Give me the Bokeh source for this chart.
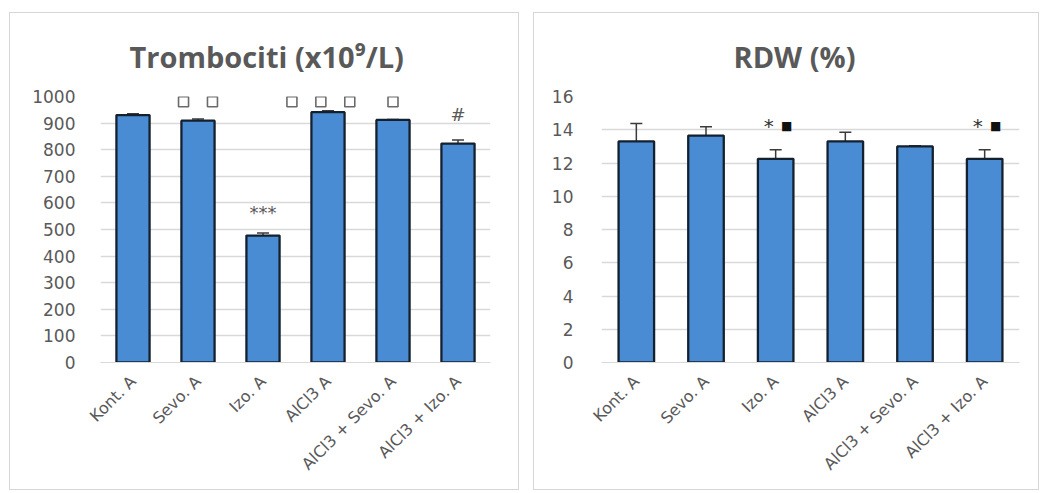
from bokeh.plotting import figure
from bokeh.models import ColumnDataSource, Whisker, TeeHead, FactorRange
from bokeh.layouts import row
from bokeh.core.properties import value
from bokeh.embed import file_html
from bokeh.resources import INLINE

categories = ["Kont. A", "Sevo. A", "Izo. A", "AlCl3 A", "AlCl3 + Sevo. A", "AlCl3 + Izo. A"]

# Trombociti (x10^9/L)
plt_values = [930, 909, 477, 941, 912, 823]
plt_errors = [5, 6, 10, 5, 2, 13]
plt_squares = [0, 2, 0, 3, 1, 0]          # number of "□" marks above each bar
plt_marks = ["", "", "***", "", "", "#"]
plt_mark_y = [None, 980, 563, 980, 980, 934]

# RDW (%)
rdw_values = [13.3, 13.65, 12.25, 13.3, 13.0, 12.25]
rdw_errors = [1.08, 0.53, 0.55, 0.55, 0.04, 0.55]
rdw_marks = ["", "", "*■", "", "", "*■"]
rdw_mark_y = [None, None, 14.25, None, None, 14.25]

LABEL = "#595959"
GRID = "#d9d9d9"
TFONT = "Open Sans"
FONT = "DejaVu Sans"


def make_panel(title, vals, errs, yend, ticks, width, height, bl, br, bt, bb,
               title_offset, ystand):
    src = ColumnDataSource(dict(
        x=categories, top=vals,
        upper=[v + e for v, e in zip(vals, errs)],
        lower=[v - e for v, e in zip(vals, errs)],
    ))
    p = figure(x_range=FactorRange(*categories), y_range=(0, yend),
               width=width, height=height, output_backend="svg",
               toolbar_location=None, min_border_left=bl, min_border_right=br,
               min_border_top=bt, min_border_bottom=bb)
    p.title.text = title
    p.title.align = "left"
    p.title.offset = title_offset
    p.title.text_font = TFONT
    p.title.text_font_size = "29px"
    p.title.text_font_style = "bold"
    p.title.text_color = LABEL
    p.title.standoff = 42

    p.vbar(x="x", top="top", width=0.51, source=src,
           fill_color="#4A8CD4", line_color="#14202e", line_width=2.3)
    w = Whisker(base="x", upper="upper", lower="lower", source=src,
                line_color="#3a3a3a", line_width=1.5,
                upper_head=TeeHead(size=12, line_color="#3a3a3a", line_width=1.5),
                lower_head=TeeHead(size=12, line_color="#3a3a3a", line_width=1.5))
    p.add_layout(w)

    p.yaxis.ticker = ticks
    p.xgrid.grid_line_color = None
    p.ygrid.grid_line_color = GRID
    p.ygrid.grid_line_width = 1.3
    p.outline_line_color = None
    for ax in (p.xaxis, p.yaxis):
        ax.axis_line_color = None
        ax.major_tick_line_color = None
        ax.minor_tick_line_color = None
        ax.major_label_text_color = LABEL
        ax.major_label_text_font = FONT
        ax.major_label_text_font_size = "17px"
    p.xaxis.axis_line_color = GRID
    p.xaxis.major_label_orientation = 0.785
    p.xaxis.major_label_standoff = 10
    p.xaxis.major_label_text_font_size = "16px"
    p.yaxis.major_label_standoff = ystand
    p.styles = {"border": "1px solid #d6d6d6"}
    return p


# left panel
p1 = make_panel("Trombociti (x10⁹/L)", plt_values, plt_errors,
                1000, [0, 100, 200, 300, 400, 500, 600, 700, 800, 900, 1000],
                510, 478, 90, 30, 83, 129, 29, 19)

sq_x, sq_y = [], []
for c, n, y in zip(categories, plt_squares, plt_mark_y):
    shift = -0.11 if n == 3 else 0.0
    for i in range(n):
        sq_x.append((c, (i - (n - 1) / 2) * 0.445 + shift))
        sq_y.append(y)
p1.scatter(x=sq_x, y=sq_y, marker="square", size=10, fill_color=None,
           line_color="#6a6a6a", line_width=1.6)
mx = [c for c, m in zip(categories, plt_marks) if m]
my = [y for m, y in zip(plt_marks, plt_mark_y) if m]
mt = [m for m in plt_marks if m]
p1.text(x=mx, y=my, text=mt, text_align="center", text_baseline="middle",
        text_color=LABEL, text_font=value(FONT), text_font_size="18px")

# right panel
p2 = make_panel("RDW (%)", rdw_values, rdw_errors,
                16, [0, 2, 4, 6, 8, 10, 12, 14, 16],
                506, 478, 67, 21, 83, 129, 132, 22)
rx = [c for c, m in zip(categories, rdw_marks) if m]
ry = [y for m, y in zip(rdw_marks, rdw_mark_y) if m]
p2.text(x=rx, y=ry, text=[m[0] for m in rdw_marks if m], x_offset=-7,
        text_align="center", text_baseline="middle", text_color="#333333",
        text_font=value(FONT), text_font_size="20px")
p2.text(x=rx, y=ry, text=[m[1] for m in rdw_marks if m], x_offset=11,
        text_align="center", text_baseline="middle", text_color="#111111",
        text_font=value(FONT), text_font_size="12px")

layout = row(p1, p2, spacing=14, margin=(12, 0, 0, 9))
open("out.html", "w").write(file_html(layout, INLINE))
